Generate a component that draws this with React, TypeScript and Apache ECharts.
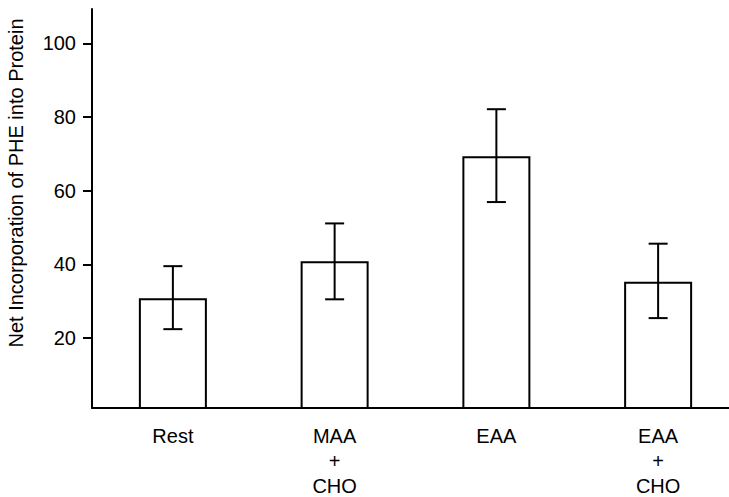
import React, { useEffect, useRef } from "react";
import * as echarts from "echarts";

const categories = ["Rest", "MAA\n+\nCHO", "EAA", "EAA\n+\nCHO"];
const means = [30.8, 40.8, 69.3, 35.3];
const lows = [22.4, 30.5, 56.9, 25.4];
const highs = [39.5, 51.1, 82.1, 45.6];
const yTicks = [20, 40, 60, 80, 100];
const yTitle = "Net Incorporation of PHE into Protein";

const FONT = "'Liberation Sans', Arial, Helvetica, sans-serif";

export default function App() {
  const ref = useRef<HTMLDivElement>(null);
  useEffect(() => {
    document.body.style.margin = "0";
    const chart = echarts.init(ref.current!, null, { renderer: "svg" });
    const errData = categories.map((_, i) => [i, lows[i], highs[i]]);
    chart.setOption({
      animation: false,
      backgroundColor: "#ffffff",
      textStyle: { fontFamily: FONT },
      grid: {
        left: 92,
        right: -10,
        top: 9,
        bottom: 89,
        containLabel: false,
        outerBoundsMode: "none",
      },
      xAxis: {
        type: "category",
        data: categories,
        axisTick: { show: false },
        axisLine: { show: true, lineStyle: { color: "#000", width: 2 } },
        axisLabel: {
          interval: 0,
          fontSize: 20,
          lineHeight: 25,
          margin: 15,
          color: "#000",
          fontFamily: FONT,
        },
        splitLine: { show: false },
      },
      yAxis: {
        type: "value",
        min: 1,
        max: 109.3,
        axisLine: { show: true, lineStyle: { color: "#000", width: 2 } },
        axisTick: {
          show: true,
          length: 9,
          lineStyle: { color: "#000", width: 2 },
          customValues: yTicks,
        },
        axisLabel: {
          fontSize: 20,
          margin: 16,
          color: "#000",
          fontFamily: FONT,
          customValues: yTicks,
        },
        splitLine: { show: false },
      },
      graphic: [
        {
          type: "text",
          x: 16,
          y: 183,
          rotation: Math.PI / 2,
          style: {
            text: yTitle,
            font: `20px ${FONT}`,
            fill: "#000",
            align: "center",
            verticalAlign: "middle",
          },
        },
      ],
      series: [
        {
          type: "bar",
          data: means,
          barWidth: 68,
          itemStyle: { color: "#fff", borderColor: "#000", borderWidth: 2 },
          z: 2,
        },
        {
          type: "custom",
          data: errData,
          encode: { x: 0, y: [1, 2] },
          z: 5,
          renderItem: (params: any, api: any) => {
            const x = api.value(0);
            const lo = api.coord([x, api.value(1)]);
            const hi = api.coord([x, api.value(2)]);
            const half = 9.5;
            const style = { stroke: "#000", lineWidth: 2 };
            return {
              type: "group",
              children: [
                { type: "line", shape: { x1: lo[0], y1: lo[1], x2: hi[0], y2: hi[1] }, style },
                { type: "line", shape: { x1: hi[0] - half, y1: hi[1], x2: hi[0] + half, y2: hi[1] }, style },
                { type: "line", shape: { x1: lo[0] - half, y1: lo[1], x2: lo[0] + half, y2: lo[1] }, style },
              ],
            };
          },
        },
      ],
    });
    return () => chart.dispose();
  }, []);
  return (
    <div
      ref={ref}
      style={{ position: "absolute", left: 0, top: 0, width: 729, height: 497 }}
    />
  );
}
